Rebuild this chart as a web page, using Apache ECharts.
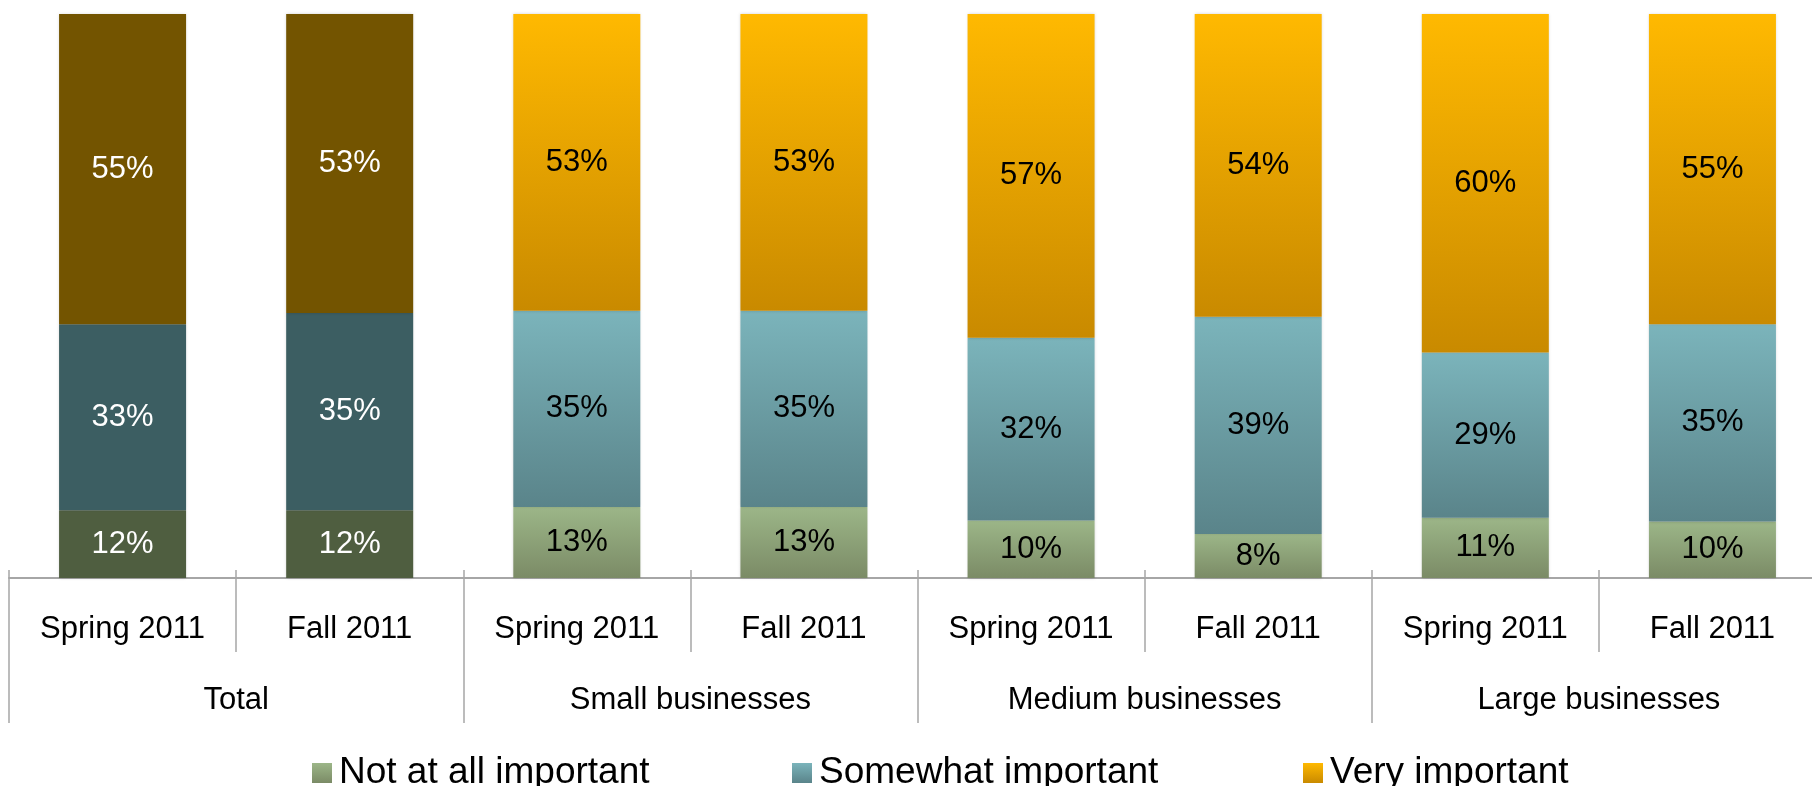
<!DOCTYPE html>
<html>
<head>
<meta charset="utf-8">
<script src="https://cdn.jsdelivr.net/npm/echarts@6/dist/echarts.min.js"></script>
<style>
  html, body { margin: 0; padding: 0; background: #fff; overflow: hidden; }
  /* the plot runs a little past the right edge of the window, as in the original */
  #chart { width: 1826px; height: 786px; }
</style>
</head>
<body>
<div id="chart"></div>
<script>
// data
const categories = ["Spring 2011", "Fall 2011", "Spring 2011", "Fall 2011", "Spring 2011", "Fall 2011", "Spring 2011", "Fall 2011"];
const groups = ["Total", "Small businesses", "Medium businesses", "Large businesses"];
const notImportant = [12, 12, 12.6, 12.6, 10.2, 7.8, 10.7, 10];
const somewhatImportant = [33, 35, 34.8, 34.8, 32.4, 38.5, 29.3, 35];
const veryImportant = [55, 53, 52.6, 52.6, 57.4, 53.7, 60, 55];
const seriesNames = ["Not at all important", "Somewhat important", "Very important"];

const FONT = "'Liberation Sans', Arial, sans-serif";
const AXIS_GRAY = "#A6A6A6";

function grad(top, bottom) {
    return new echarts.graphic.LinearGradient(0, 0, 0, 1, [
        { offset: 0, color: top },
        { offset: 1, color: bottom }
    ]);
}

// colours: gradient for the business groups, flat dark for Total
const groupColors = [grad("#9CB688", "#7B8B66"), grad("#7BB4BB", "#5A848A"), grad("#FFB901", "#C98A00")];
const totalColors = ["#4F5E40", "#3C5E62", "#735400"];

function buildData(values, idx) {
    return values.map((v, i) => {
        if (i < 2) {
            return { value: v, itemStyle: { color: totalColors[idx] }, label: { color: "#ffffff" } };
        }
        return v;
    });
}

const chart = echarts.init(document.getElementById("chart"));

const legendLefts = [307, 787, 1298];
const legends = seriesNames.map((name, i) => ({
    data: [name],
    left: legendLefts[i],
    top: 749,
    itemWidth: 20,
    itemHeight: 20,
    icon: "rect",
    selectedMode: false,
    textStyle: { fontSize: 37, fontFamily: FONT, color: "#000", lineHeight: 38, padding: [0, 0, 0, 2] }
}));

const option = {
    animation: false,
    backgroundColor: "#ffffff",
    legend: legends,
    grid: { left: 9, right: 0, top: 14, bottom: 208, containLabel: false },
    xAxis: [
        {
            type: "category",
            data: categories,
            position: "bottom",
            axisLine: { show: true, lineStyle: { color: AXIS_GRAY, width: 2 } },
            axisTick: { show: true, interval: 0, length: 74, lineStyle: { color: AXIS_GRAY, width: 1.5 } },
            axisLabel: { interval: 0, margin: 36, fontSize: 31, lineHeight: 31, fontFamily: FONT, color: "#000" }
        },
        {
            type: "category",
            data: groups,
            position: "bottom",
            axisLine: { show: false },
            axisTick: { show: true, interval: 0, length: 145, lineStyle: { color: AXIS_GRAY, width: 1.5 } },
            axisLabel: { interval: 0, margin: 107, fontSize: 31, lineHeight: 31, fontFamily: FONT, color: "#000" }
        },
        {
            type: "category",
            data: categories,
            position: "bottom",
            axisLine: { show: false },
            axisTick: { show: true, inside: true, interval: 0, length: 8, lineStyle: { color: AXIS_GRAY, width: 1.5 } },
            axisLabel: { show: false }
        }
    ],
    yAxis: { type: "value", min: 0, max: 100, show: false, splitLine: { show: false } },
    series: [notImportant, somewhatImportant, veryImportant].map((vals, idx) => ({
        name: seriesNames[idx],
        type: "bar",
        stack: "all",
        xAxisIndex: 0,
        barWidth: 127,
        data: buildData(vals, idx),
        itemStyle: { color: groupColors[idx], shadowColor: "rgba(0,0,0,0.18)", shadowBlur: 3 },
        label: {
            show: true,
            position: "inside",
            fontSize: 31,
            fontFamily: FONT,
            color: "#000",
            formatter: p => Math.round(p.value) + "%"
        }
    }))
};

chart.setOption(option);
</script>
</body>
</html>
